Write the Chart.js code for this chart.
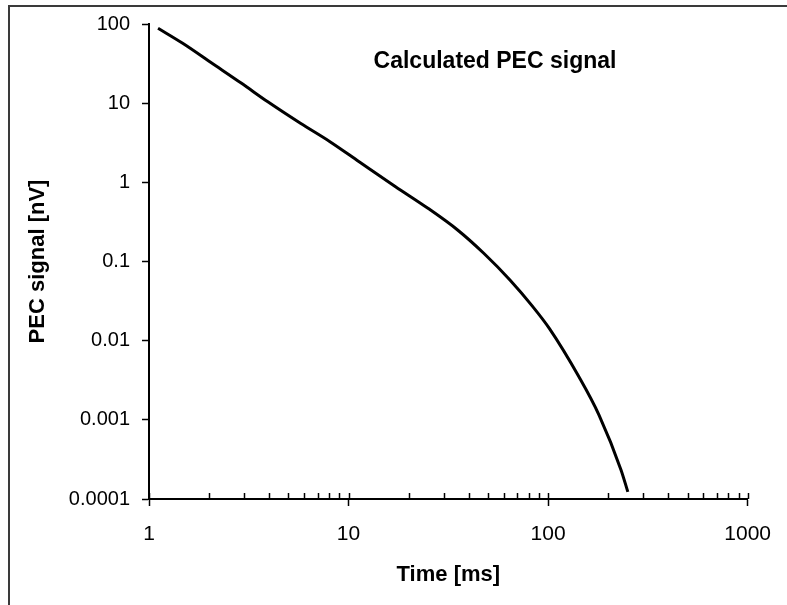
<!DOCTYPE html>
<html>
<head>
<meta charset="utf-8">
<title>Calculated PEC signal</title>
<script src="https://cdn.jsdelivr.net/npm/chart.js@4.4.1/dist/chart.umd.min.js"></script>
<style>
  html, body { margin: 0; padding: 0; background: #fff; }
  #wrap { width: 787px; height: 605px; }
</style>
</head>
<body>
<div id="wrap"><canvas id="pecChart" width="787" height="605"></canvas></div>
<script>
// values (time in ms, signal in nV)
const timeMs   = [1.11, 1.475, 2.07, 2.91, 3.94, 5.74, 8.07, 11.3, 17.2, 25.0, 35.2, 47.6, 64.4, 83.8, 101.6, 142.7, 180, 232, 251];
const signalNV = [88.3, 57.0, 31.9, 17.8, 10.4, 5.57, 3.26, 1.82, 0.881, 0.470, 0.250, 0.127, 0.0584, 0.0269, 0.0142, 0.0035, 0.00115, 0.000233, 0.000123];

const xTickValues = [1, 2, 3, 4, 5, 6, 7, 8, 9, 10, 20, 30, 40, 50, 60, 70, 80, 90,
                     100, 200, 300, 400, 500, 600, 700, 800, 900, 1000];
const xMajorTicks = [1, 10, 100, 1000];
const yTickValues = [0.0001, 0.001, 0.01, 0.1, 1, 10, 100];
const yTickLabels = ['0.0001', '0.001', '0.01', '0.1', '1', '10', '100'];

Chart.defaults.font.family = 'Arial, "Liberation Sans", sans-serif';
Chart.defaults.color = '#000';

// outer frame of the picture
const framePlugin = {
  id: 'frame',
  beforeDraw(chart) {
    const c = chart.ctx;
    c.save();
    c.strokeStyle = '#3a3a3a';
    c.lineWidth = 2;
    c.strokeRect(9, 6, 900, 900);
    c.restore();
  }
};

// small inner ticks on the x axis + title inside the plot
const extrasPlugin = {
  id: 'extras',
  afterDraw(chart) {
    const c = chart.ctx;
    const xs = chart.scales.x;
    const area = chart.chartArea;
    c.save();
    c.strokeStyle = '#000';
    c.lineWidth = 1.5;
    xs.ticks.forEach(t => {
      const px = Math.round(xs.getPixelForValue(t.value)) + 0.5;
      c.beginPath();
      c.moveTo(px, area.bottom);
      c.lineTo(px, area.bottom - 6);
      c.stroke();
    });
    c.fillStyle = '#000';
    c.font = 'bold 23px Arial, "Liberation Sans", sans-serif';
    c.textAlign = 'center';
    c.textBaseline = 'middle';
    c.fillText('Calculated PEC signal', 495, 62);
    c.restore();
  }
};

new Chart(document.getElementById('pecChart'), {
  type: 'line',
  data: {
    datasets: [{
      label: 'PEC signal',
      data: timeMs.map((t, i) => ({ x: t, y: signalNV[i] })),
      borderColor: '#000',
      borderWidth: 3,
      pointRadius: 0,
      cubicInterpolationMode: 'monotone',
      fill: false
    }]
  },
  options: {
    responsive: false,
    animation: false,
    devicePixelRatio: 1,
    layout: { padding: { top: 24, right: 28, left: 0, bottom: 0 } },
    plugins: {
      legend: { display: false },
      tooltip: { enabled: false }
    },
    scales: {
      x: {
        type: 'logarithmic',
        min: 1,
        max: 1000,
        afterBuildTicks: axis => {
          axis.ticks = xTickValues.map(v => ({ value: v, major: xMajorTicks.includes(v) }));
        },
        afterFit: s => { s.height = 106; },
        ticks: {
          autoSkip: false,
          maxRotation: 0,
          padding: 16,
          color: '#000',
          font: { size: 21 },
          callback: v => (xMajorTicks.includes(v) ? String(v) : '')
        },
        grid: {
          drawOnChartArea: false,
          drawTicks: true,
          tickLength: 7,
          tickWidth: 1.5,
          tickColor: ctx => (ctx.tick && ctx.tick.major ? '#000' : 'rgba(0,0,0,0)')
        },
        border: { display: true, color: '#000', width: 2 },
        title: {
          display: true,
          text: 'Time [ms]',
          color: '#000',
          font: { size: 22, weight: 'bold' },
          padding: { top: 0, bottom: 17 }
        }
      },
      y: {
        type: 'logarithmic',
        min: 0.0001,
        max: 100,
        afterBuildTicks: axis => {
          axis.ticks = yTickValues.map(v => ({ value: v, major: true }));
        },
        afterFit: s => { s.width = 149; },
        ticks: {
          autoSkip: false,
          padding: 12,
          color: '#000',
          font: { size: 20 },
          callback: (v, i) => yTickLabels[i]
        },
        grid: {
          drawOnChartArea: false,
          drawTicks: true,
          tickLength: 7,
          tickWidth: 1.5,
          tickColor: '#000'
        },
        border: { display: true, color: '#000', width: 2 },
        title: {
          display: true,
          text: 'PEC signal [nV]',
          color: '#000',
          font: { size: 22, weight: 'bold' },
          padding: { top: 25, bottom: 0 }
        }
      }
    }
  },
  plugins: [framePlugin, extrasPlugin]
});
</script>
</body>
</html>
